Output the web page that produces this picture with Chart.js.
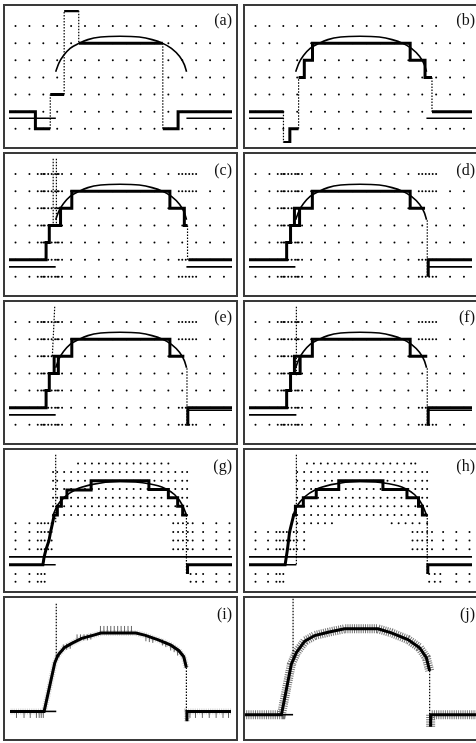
<!DOCTYPE html>
<html><head><meta charset="utf-8">
<script src="https://cdn.jsdelivr.net/npm/chart.js@4.4.0/dist/chart.umd.min.js"></script>
<style>
html,body{margin:0;padding:0;background:#fff;width:476px;height:743px;overflow:hidden;position:relative}
.panel{position:absolute;box-sizing:border-box;border:2px solid #3a3a3a;width:235px;height:145px;background:#fff}
.panel canvas{display:block}
.lab{position:absolute;font-family:"Liberation Serif","DejaVu Serif",serif;font-size:16px;line-height:16px;color:#111;white-space:nowrap}
</style></head><body>
<script>
// ---------- data (grid units) ----------
const panelLabels = ['(a)','(b)','(c)','(d)','(e)','(f)','(g)','(h)','(i)','(j)'];
const gridCols = [0,1,2,3,4,5,6,7,8,9,10,11,12,13,14,15];
const gridRows = [0,1,2,3,4,5,6];
const denseLeft = [1.6,1.85,2.1,2.35,2.6,2.85,3.1,3.35];
const denseRight = [11.75,12.25,12.5,12.75];

const arcRef = [[2.89,3.33],[3.12,3.84],[3.47,4.30],[3.93,4.70],[4.56,4.99],[5.21,5.21],[6.13,5.36],[7.52,5.41],[8.91,5.36],[9.83,5.21],[10.6,4.99],[11.22,4.70],[11.8,4.24],[12.15,3.75],[12.31,3.33]];
const arcG = [[2.66,3.29],[3.01,3.93],[3.59,4.47],[4.28,4.84],[5.44,5.15],[7.52,5.33],[9.6,5.2],[10.76,4.93],[11.46,4.56],[12.03,3.93],[12.34,3.29]];

const stepA = [[-1,1],[1.43,1],[1.43,0],[2.5,0],null,[2.5,2],[3.5,2],null,[3.5,6.9],[4.55,6.9],null,[4.55,5],[10.6,5],null,[10.6,0],[11.7,0],[11.7,1],[16,1]];
const dotA  = [[2.5,0],[2.5,2],null,[3.5,2],[3.5,6.9],null,[4.55,6.9],[4.55,5],null,[10.6,5],[10.6,0]];
const thinA = [[-1,0.62],[2.9,0.62],null,[12.3,0.62],[16,0.62]];

const stepB = [[-1,1],[2.01,1],null,[2.01,-0.8],[2.47,-0.8],[2.47,0],[3.1,0],null,[3.1,3],[3.51,3],[3.51,4],[4.1,4],[4.1,5],[11.13,5],[11.13,4],[12.2,4],[12.2,3],[12.7,3],null,[12.7,1],[16,1]];
const dotB  = [[2.01,1],[2.01,-0.8],null,[3.1,0],[3.1,3],null,[12.7,3],[12.7,1]];
const thinB = [[-1,0.62],[2.0,0.62],null,[12.3,0.62],[16,0.62]];

const stepC = [[-1,1],[2.2,1],[2.2,2],[2.43,2],[2.43,3],[3.24,3],[3.24,4],[4.05,4],[4.05,5],[11.11,5],[11.11,4],[12.15,4],[12.15,3],[12.38,3],null,[12.45,1],[16,1]];
const dotC  = [[2.71,6.9],[2.71,3],null,[2.94,6.9],[2.94,3],null,[12.38,3],[12.38,1]];
const thinC = [[-1,0.58],[2.89,0.58],null,[12.3,0.58],[16,0.58]];

const stepD = [[-1,1],[2.24,1],[2.24,2],[2.52,2],[2.52,3],[3.17,3],[3.17,4],[2.8,4],[2.8,3],[2.8,4],[4.09,4],[4.09,5],[11.13,5],[11.13,4],[12.2,4],null,[12.43,0],[12.43,1],[16,1]];
const dotD  = [[12.36,3.3],[12.36,0]];
const thinD = [[-1,0.58],[2.87,0.58],null,[12.43,0.58],[16,0.58]];

const stepE = [[-1,1],[2.2,1],[2.2,2],[2.43,2],[2.43,3],[3.08,3],[3.08,4],[2.78,4],[2.78,3],[2.78,4],[4.05,4],[4.05,5],[11.11,5],[11.11,4],[12.15,4],null,[12.4,-0.05],[12.4,1],[16,1]];
const dotE  = [[2.82,6.9],[2.65,4],null,[12.34,3.3],[12.34,-0.05]];
const thinE = [[-1,0.58],[2.89,0.58],null,[12.4,0.85],[16,0.85]];

const stepF = [[-1,1],[2.24,1],[2.24,2],[2.52,2],[2.52,3],[3.21,3],[3.21,4],[2.8,4],[2.8,3],[2.8,4],[4.09,4],[4.09,5],[11.13,5],[11.13,4],[12.36,4],null,[12.43,-0.05],[12.43,1],[16,1]];
const dotF  = [[2.94,6.9],[2.94,2.85],null,[12.36,3.3],[12.36,-0.05]];
const thinF = [[-1,0.58],[2.94,0.58],null,[12.43,0.85],[16,0.85]];

const stepG = [[-1,0.47],[1.97,0.47],[2.06,0.93],[2.2,1.38],[2.41,1.89],[2.52,2.38],[2.66,2.89],[2.78,3.38],[3.01,3.38],[3.01,3.89],[3.3,3.89],[3.3,4.38],[3.7,4.38],[3.7,4.84],[5.44,4.84],[5.44,5.38],[9.6,5.38],[9.6,4.87],[11.0,4.87],[11.0,4.38],[11.67,4.38],[11.67,3.89],[12.03,3.89],[12.03,3.38],[12.3,3.38],null,[12.38,-0.07],[12.38,0.47],[16,0.47]];
const dotG  = [[2.89,6.9],[2.89,2.9],null,[12.3,3.38],[12.3,-0.07]];
const thinG = [[-1,0.93],[16,0.93],null,[1.97,0.47],[2.89,0.47]];

const stepH = [[-1,0.47],[2.13,0.47],[2.3,1.38],[2.45,2.38],[2.6,2.89],[2.75,3.38],[2.87,3.38],[2.87,3.89],[3.44,3.89],[3.44,4.38],[4.37,4.38],[4.37,4.87],[5.99,4.87],[5.99,5.38],[9.17,5.38],[9.17,4.87],[10.9,4.87],[10.9,4.38],[11.73,4.38],[11.73,3.89],[12.01,3.89],[12.01,3.38],[12.36,3.38],null,[12.4,-0.07],[12.4,0.47],[16,0.47]];
const dotH  = [[2.94,6.9],[2.94,0.47],null,[12.36,3.38],[12.36,-0.07]];
const thinH = [[-1,0.93],[16,0.93],null,[2.13,0.47],[2.94,0.47]];

const curveI = [[-1,0.51],[2.01,0.51],[2.78,3.38],[3.01,3.84],[3.47,4.29],[4.05,4.56],[4.74,4.84],[5.55,5.02],[6.13,5.16],[8.68,5.16],[9.37,5.02],[10.3,4.75],[11.22,4.44],[11.8,4.11],[12.15,3.75],[12.34,3.11],null,[12.38,-0.07],[12.38,0.51],[16,0.51]];
const dotI  = [[2.89,6.9],[2.89,3.56],null,[12.34,3.11],[12.34,-0.07]];
const thinI = [[2.01,0.51],[2.89,0.51]];
const ticksI = [[0,0.3],[0.55,0.3],[1.0,0.3],[1.45,0.3],[1.65,0.3],[1.8,0.3],[1.95,0.3],[12.6,0.3],[13.0,0.3],[13.5,0.3],[14.0,0.3],[14.5,0.3],[15.0,0.3],[15.4,0.3],
  [6.1,5.4],[6.35,5.4],[6.6,5.4],[6.85,5.4],[7.1,5.4],[7.35,5.4],[7.6,5.4],[7.85,5.4],[8.1,5.4],[8.35,5.4],
  [4.4,4.9],[4.65,4.9],[4.9,4.9],[5.15,4.9],[5.4,4.95],[3.4,4.3],[3.65,4.35],[3.9,4.4],[3.1,3.9],
  [9.4,4.85],[9.65,4.8],[9.9,4.75],[10.6,4.6],[10.85,4.5],[11.2,4.3],[11.45,4.2],[11.7,4.0]];

const curveJ = [[-1,0.51],[2.06,0.51],[2.75,3.29],[3.1,3.93],[3.68,4.56],[4.37,4.87],[5.3,5.05],[6.45,5.24],[8.77,5.24],[9.7,5.02],[10.85,4.65],[11.66,4.2],[12.13,3.65],[12.36,2.93],null,[12.43,-0.16],[12.43,0.51],[16,0.51]];
const dotJ  = [[2.87,6.9],[2.87,3.56],null,[12.36,2.93],[12.36,-0.16]];
const thinJ = [[2.06,0.51],[2.87,0.51]];

const gUpperRows = [3.38,3.89,4.38,4.89,5.38,5.89];
const halfCols = [3.0,3.5,4.0,4.5,5.0,5.5,6.0,6.5,7.0,7.5,8.0,8.5,9.0,9.5,10.0,10.5,11.0,11.5,12.0,12.35];
const gTopCols = [4.5,5.0,5.5,6.0,6.5,7.0,7.5,8.0,8.5,9.0,9.5,10.0,10.5,11.0];
const gSideRows = [1.38,1.89,2.38,2.89];
const gSideCols = [0,1,1.6,1.85,2.1,2.35,2.6,11.35,11.7,12.05,12.4,12.75,13.5,14.45,15.4];
const gLowRows = [-0.07,-0.53];
const gLowCols = [0,1,1.6,1.85,2.1,12.6,13.0,13.5,14.45,15.4];
const hTopCols = [3.7,4.2,4.7,5.2,5.7,6.2,6.7,7.2,7.7,8.2,8.7,9.2,9.7,10.2,10.7,11.2,11.5];
const hRow289Cols = [3.0,3.5,4.0,4.5,5.0,5.5,9.8,10.3,10.8,11.3,11.8,12.35];
const hSideRows = [1.38,1.89,2.38];
const hSideCols = [0,0.9,1.5,1.75,2.0,2.25,2.5,2.75,3.0,3.5,11.3,11.65,12.0,12.35,12.7,13.5,14.45,15.4];
const hLowCols = [0,0.9,1.5,1.75,2.0,12.5,12.9,13.3,14.45,15.4];

// ---------- builders ----------
function cross(rows, cols){ const out=[]; rows.forEach(y=>cols.forEach(x=>out.push({x,y}))); return out; }
function pts(arr){ return arr.map(p=> p ? {x:p[0],y:p[1]} : {x:null,y:null}); }
const baseDots = cross(gridRows.filter(r=>r<6), gridCols).concat(cross([6], gridCols.filter(c=>c<14)));
const denseDots = baseDots.concat(cross(gridRows, denseLeft), cross([0,1,5,6], denseRight));
const gDots = cross(gUpperRows, halfCols).concat(cross([6.38], gTopCols), cross(gSideRows, gSideCols), cross(gLowRows, gLowCols), cross(gUpperRows,[2.7]));
const hDots = cross(gUpperRows, halfCols).concat(cross([6.38], hTopCols), cross([2.89], hRow289Cols), cross(hSideRows, hSideCols), cross(gLowRows, hLowCols));

const panels = [
  {step:stepA, dotted:dotA, thin:thinA, arc:arcRef, dots:baseDots},
  {step:stepB, dotted:dotB, thin:thinB, arc:arcRef, dots:baseDots},
  {step:stepC, dotted:dotC, thin:thinC, arc:arcRef, dots:denseDots},
  {step:stepD, dotted:dotD, thin:thinD, arc:arcRef, dots:denseDots},
  {step:stepE, dotted:dotE, thin:thinE, arc:arcRef, dots:denseDots},
  {step:stepF, dotted:dotF, thin:thinF, arc:arcRef, dots:denseDots},
  {step:stepG, dotted:dotG, thin:thinG, arc:arcG, dots:gDots},
  {step:stepH, dotted:dotH, thin:thinH, arc:arcG, dots:hDots},
  {step:curveI, dotted:dotI, thin:thinI, arc:null, dots:[], ticks:ticksI, band:0.18},
  {step:curveJ, dotted:dotJ, thin:thinJ, arc:null, dots:[], band:0.55}
];

const lefts = [3,243];
const tops = [4,152,300,448,596];
const labTop = [8,10,9,10,10];

panels.forEach((p,i)=>{
  const col=i%2, row=Math.floor(i/2);
  const div=document.createElement('div');
  div.className='panel';
  div.style.left=lefts[col]+'px'; div.style.top=tops[row]+'px';
  const cv=document.createElement('canvas');
  cv.width=231; cv.height=141;
  cv.style.width='231px'; cv.style.height='141px';
  div.appendChild(cv);
  document.body.appendChild(div);
  const lab=document.createElement('div');
  lab.className='lab';
  lab.textContent=panelLabels[i];
  lab.style.right=(col===0 ? 244 : 1)+'px';
  lab.style.top=(tops[row]+labTop[row])+'px';
  document.body.appendChild(lab);

  const ds=[];
  ds.push({data:pts(p.step), showLine:true, borderColor:'#000', borderWidth:3, pointRadius:0, borderJoinStyle:'miter', borderCapStyle:'butt', spanGaps:false});
  if(p.arc) ds.push({data:pts(p.arc), showLine:true, borderColor:'#000', borderWidth:1.6, pointRadius:0, tension:0.4, cubicInterpolationMode:'monotone'});
  ds.push({data:pts(p.thin), showLine:true, borderColor:'#000', borderWidth:1.6, pointRadius:0, spanGaps:false});
  ds.push({data:pts(p.dotted), showLine:true, borderColor:'#000', borderWidth:1.2, borderDash:[1.5,1.5], pointRadius:0, spanGaps:false});
  if(p.band) ds.push({data:pts(p.step), showLine:true, borderColor:'rgba(0,0,0,'+p.band+')', borderWidth:(p.band>0.3?9:6), borderDash:[1,1.2], pointRadius:0, spanGaps:false});
  if(p.ticks) ds.push({data:pts(p.ticks), showLine:false, pointStyle:'line', rotation:90, pointRadius:3, pointBorderWidth:1, pointBorderColor:'#666'});
  ds.push({data:p.dots, showLine:false, pointRadius:1, pointBackgroundColor:'#000', pointBorderWidth:0});

  new Chart(cv,{
    type:'scatter',
    data:{datasets:ds},
    options:{
      responsive:false, animation:false, events:[],
      layout:{padding:0},
      plugins:{legend:{display:false}, tooltip:{enabled:false}, title:{display:false}},
      scales:{
        x:{type:'linear', min:-0.47, max:15.58, display:false},
        y:{type:'linear', min:-0.83, max:6.94, display:false}
      }
    }
  });
});
</script>
</body></html>
